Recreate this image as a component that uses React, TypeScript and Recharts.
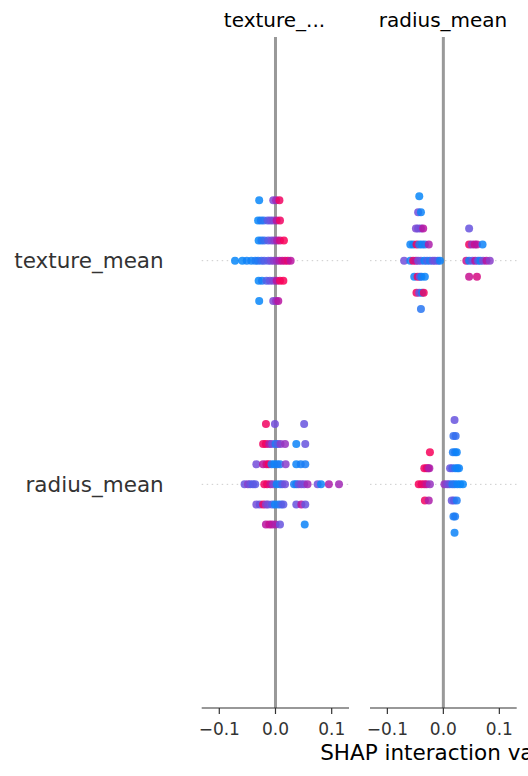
import React from 'react';
import { ScatterChart, Scatter, XAxis, YAxis, ReferenceLine } from 'recharts';

// row index on the y axis -> feature name
const FEATURES = ['radius_mean', 'texture_mean'];
const PANEL_TITLES = ['texture_...', 'radius_mean'];
const X_TICKS = [-0.1, 0, 0.1];
const X_LABEL = 'SHAP interaction value';

// [shap interaction value, swarm layer, feature value (0 low .. 1 high)]
type Pt = [number, number, number];

// panel "texture_..." / row texture_mean
const TEX_TEX: Pt[] = [
  [-0.029, 3, 0.03], [-0.004, 3, 0.5], [0.001, 3, 0.65], [0.007, 3, 0.95],
  [-0.031, 2, 0.03], [-0.026, 2, 0.08], [-0.021, 2, 0.15], [-0.014, 2, 0.35], [-0.009, 2, 0.42], [-0.004, 2, 0.5], [0.002, 2, 0.75], [0.008, 2, 0.95],
  [-0.030, 1, 0.03], [-0.025, 1, 0.1], [-0.020, 1, 0.2], [-0.013, 1, 0.35], [-0.007, 1, 0.45], [-0.002, 1, 0.55], [0.003, 1, 0.7], [0.008, 1, 0.85], [0.015, 1, 0.98],
  [-0.072, 0, 0.03], [-0.059, 0, 0.03], [-0.051, 0, 0.06], [-0.043, 0, 0.06], [-0.036, 0, 0.1], [-0.031, 0, 0.12], [-0.025, 0, 0.2], [-0.020, 0, 0.3], [-0.013, 0, 0.35], [-0.008, 0, 0.45], [-0.003, 0, 0.55], [0.002, 0, 0.6], [0.007, 0, 0.7], [0.012, 0, 0.8], [0.017, 0, 0.85], [0.022, 0, 0.9], [0.027, 0, 0.75],
  [-0.030, -1, 0.03], [-0.024, -1, 0.08], [-0.016, -1, 0.3], [-0.010, -1, 0.4], [-0.004, -1, 0.5], [0.002, -1, 0.75], [0.008, -1, 0.95], [0.014, -1, 0.98],
  [-0.029, -2, 0.03], [-0.004, -2, 0.5], [0.001, -2, 0.6], [0.005, -2, 0.75],
];

// panel "texture_..." / row radius_mean
const TEX_RAD: Pt[] = [
  [-0.017, 3, 0.95], [-0.001, 3, 0.45], [0.051, 3, 0.4],
  [-0.022, 2, 0.95], [-0.017, 2, 0.95], [-0.011, 2, 0.7], [-0.006, 2, 0.45], [0.0, 2, 0.1], [0.004, 2, 0.3], [0.009, 2, 0.55], [0.017, 2, 0.6], [0.037, 2, 0.05], [0.053, 2, 0.4],
  [-0.034, 1, 0.45], [-0.022, 1, 0.75], [-0.016, 1, 0.85], [-0.012, 1, 0.95], [-0.007, 1, 0.1], [-0.002, 1, 0.05], [0.003, 1, 0.08], [0.008, 1, 0.1], [0.018, 1, 0.55], [0.037, 1, 0.05], [0.045, 1, 0.08], [0.053, 1, 0.1],
  [-0.055, 0, 0.4], [-0.049, 0, 0.55], [-0.045, 0, 0.4], [-0.040, 0, 0.3], [-0.036, 0, 0.35], [-0.020, 0, 0.95], [-0.015, 0, 0.95], [-0.009, 0, 0.8], [-0.004, 0, 0.5], [0.002, 0, 0.05], [0.008, 0, 0.1], [0.012, 0, 0.3], [0.017, 0, 0.45], [0.033, 0, 0.1], [0.037, 0, 0.05], [0.041, 0, 0.4], [0.046, 0, 0.5], [0.051, 0, 0.45], [0.057, 0, 0.65], [0.075, 0, 0.45], [0.081, 0, 0.05], [0.095, 0, 0.7], [0.113, 0, 0.65],
  [-0.034, -1, 0.45], [-0.028, -1, 0.4], [-0.022, -1, 0.95], [-0.017, -1, 0.55], [-0.013, -1, 0.45], [-0.006, -1, 0.3], [-0.001, -1, 0.05], [0.005, -1, 0.1], [0.010, -1, 0.2], [0.014, -1, 0.35], [0.037, -1, 0.4], [0.046, -1, 0.75], [0.053, -1, 0.4],
  [-0.017, -2, 0.75], [-0.011, -2, 0.8], [-0.006, -2, 0.75], [0.0, -2, 0.7], [0.008, -2, 0.4], [0.052, -2, 0.05],
];

// panel "radius_mean" / row texture_mean
const RAD_TEX: Pt[] = [
  [-0.043, 4, 0.03],
  [-0.045, 3, 0.45], [-0.040, 3, 0.05],
  [-0.049, 2, 0.5], [-0.045, 2, 0.45], [-0.040, 2, 0.45], [-0.036, 2, 0.75], [0.046, 2, 0.4],
  [-0.059, 1, 0.05], [-0.054, 1, 0.05], [-0.048, 1, 0.95], [-0.043, 1, 0.1], [-0.038, 1, 0.05], [-0.033, 1, 0.1], [-0.026, 1, 0.7], [0.046, 1, 0.95], [0.051, 1, 0.6], [0.056, 1, 0.8], [0.060, 1, 0.75], [0.070, 1, 0.05],
  [-0.070, 0, 0.45], [-0.059, 0, 0.05], [-0.054, 0, 0.95], [-0.049, 0, 0.8], [-0.045, 0, 0.45], [-0.040, 0, 0.4], [-0.034, 0, 0.05], [-0.029, 0, 0.3], [-0.024, 0, 0.1], [-0.019, 0, 0.4], [-0.015, 0, 0.45], [-0.010, 0, 0.35], [-0.006, 0, 0.05], [0.041, 0, 0.8], [0.046, 0, 0.05], [0.052, 0, 0.4], [0.057, 0, 0.75], [0.062, 0, 0.3], [0.066, 0, 0.05], [0.071, 0, 0.5], [0.077, 0, 0.75], [0.083, 0, 0.55],
  [-0.052, -1, 0.05], [-0.046, -1, 0.95], [-0.042, -1, 0.4], [-0.039, -1, 0.05], [-0.033, -1, 0.05], [0.046, -1, 0.8], [0.060, -1, 0.85],
  [-0.048, -2, 0.95], [-0.043, -2, 0.4], [-0.038, -2, 0.05], [-0.035, -2, 0.95],
  [-0.040, -3, 0.15],
];

// panel "radius_mean" / row radius_mean
const RAD_RAD: Pt[] = [
  [0.020, 4, 0.4],
  [0.018, 3, 0.2], [0.022, 3, 0.2],
  [-0.024, 2, 0.97], [0.017, 2, 0.1], [0.021, 2, 0.1], [0.024, 2, 0.05],
  [-0.034, 1, 0.95], [-0.030, 1, 0.95], [-0.027, 1, 0.8], [-0.025, 1, 0.7], [0.012, 1, 0.4], [0.016, 1, 0.3], [0.021, 1, 0.1], [0.025, 1, 0.05], [0.028, 1, 0.05],
  [-0.044, 0, 0.97], [-0.039, 0, 0.95], [-0.034, 0, 0.9], [-0.030, 0, 0.8], [-0.024, 0, 0.6], [0.002, 0, 0.6], [0.007, 0, 0.5], [0.011, 0, 0.4], [0.016, 0, 0.1], [0.020, 0, 0.15], [0.025, 0, 0.05], [0.030, 0, 0.05], [0.035, 0, 0.03],
  [-0.033, -1, 0.95], [-0.026, -1, 0.7], [0.015, -1, 0.4], [0.019, -1, 0.35], [0.024, -1, 0.1],
  [0.018, -2, 0.1], [0.021, -2, 0.1],
  [0.020, -3, 0.05],
];

// shap red_blue, roughly
const STOPS: [number, number[]][] = [
  [0, [0, 139, 251]],
  [0.3, [80, 95, 232]],
  [0.5, [126, 72, 212]],
  [0.75, [185, 20, 160]],
  [1, [255, 0, 82]],
];

function shapColor(v: number) {
  for (let i = 1; i < STOPS.length; i++) {
    const [p1, c1] = STOPS[i];
    const [p0, c0] = STOPS[i - 1];
    if (v <= p1) {
      const t = (v - p0) / (p1 - p0);
      const c = c0.map((a, k) => Math.round(a + (c1[k] - a) * t));
      return `rgb(${c[0]},${c[1]},${c[2]})`;
    }
  }
  return 'rgb(255,0,82)';
}

const fmt = (v: number) => (v < 0 ? '\u2212' + Math.abs(v).toFixed(1) : v.toFixed(1));

const Dot = (props: any) => (
  <circle cx={props.cx} cy={props.cy} r={4} fill={shapColor(props.payload.c)} fillOpacity={0.85} />
);

interface PanelProps {
  rows: Pt[][]; // indexed like FEATURES
  layerGap: number;
  domain: [number, number];
  left: number;
  right: number;
  showNames?: boolean;
}

const Panel: React.FC<PanelProps> = ({ rows, layerGap, domain, left, right, showNames }) => {
  const data = rows.flatMap((pts, row) => pts.map(([x, layer, c]) => ({ x, y: row + layer * layerGap, c })));
  return (
    <div style={{ position: 'absolute', left: 0, top: 0 }}>
      <ScatterChart width={528} height={776} margin={{ top: 37, right, bottom: 0, left: showNames ? 0 : left }}>
        <XAxis
          dataKey="x"
          type="number"
          domain={domain}
          allowDataOverflow
          ticks={X_TICKS}
          tickFormatter={fmt}
          height={68}
          stroke="#333"
          strokeWidth={1.2}
          tickSize={6}
          tickMargin={9}
          tick={{ fill: '#333', fontSize: 17 }}
        />
        <YAxis
          dataKey="y"
          type="number"
          domain={[-1, 2]}
          allowDataOverflow
          ticks={[0, 1]}
          tickFormatter={(v: number) => FEATURES[v]}
          hide={!showNames}
          width={showNames ? left : 0}
          axisLine={false}
          tickLine={false}
          tickSize={0}
          tickMargin={38}
          tick={{ fill: '#333', fontSize: 21.5 }}
        />
        {FEATURES.map((f, i) => (
          <ReferenceLine key={f} y={i} stroke="#cccccc" strokeWidth={1} strokeDasharray="1.5 3.5" />
        ))}
        <ReferenceLine x={0} stroke="#999999" strokeWidth={3} />
        <Scatter data={data} shape={Dot} isAnimationActive={false} />
      </ScatterChart>
    </div>
  );
};

export default function App() {
  return (
    <div
      style={{
        position: 'absolute',
        left: 0,
        top: 0,
        width: 528,
        height: 776,
        overflow: 'hidden',
        background: '#fff',
        fontFamily: '"DejaVu Sans", sans-serif',
      }}
    >
      <Panel rows={[TEX_RAD, TEX_TEX]} layerGap={0.09} domain={[-0.1313, 0.1308]} left={201.7} right={179} showNames />
      <Panel rows={[RAD_RAD, RAD_TEX]} layerGap={0.072} domain={[-0.131, 0.131]} left={370} right={11.3} />
      <svg width={528} height={776} style={{ position: 'absolute', left: 0, top: 0, pointerEvents: 'none' }}>
        <text x={274.5} y={27} textAnchor="middle" fontSize={20} fill="#000">{PANEL_TITLES[0]}</text>
        <text x={443} y={27} textAnchor="middle" fontSize={20} fill="#000">{PANEL_TITLES[1]}</text>
        <text x={443.3} y={760} textAnchor="middle" fontSize={21.5} fill="#000">{X_LABEL}</text>
      </svg>
    </div>
  );
}
